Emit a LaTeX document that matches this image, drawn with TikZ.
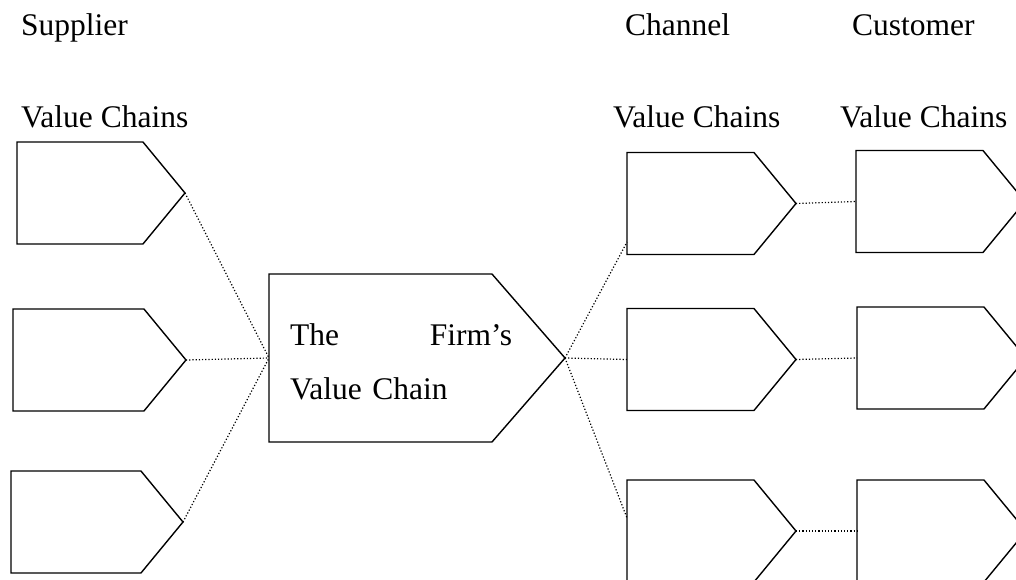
\documentclass[tikz,border=0pt]{standalone}
\usepackage{fontspec}
\setmainfont{Liberation Serif}
\usetikzlibrary{shapes.symbols,calc}

\begin{document}
\begin{tikzpicture}[x=1pt,y=-1pt,
    vcbox/.style={draw,shape=signal,signal to=east,signal from=nowhere,
      signal pointer angle=101,line width=1.4pt,outer sep=0pt,inner sep=0pt,
      minimum width=169pt,minimum height=102pt,anchor=west},
    link/.style={dotted,line width=1.2pt},
    headtext/.style={anchor=base west,inner sep=0pt,font=\fontsize{31.5}{54}\selectfont}]
    \useasboundingbox (0,0) rectangle (1016,580);
    \clip (0,0) rectangle (1016,580);
    % column headings
    \node[headtext] (suphead) at (21,36) {Supplier};
    \node[headtext] (supvc) at (21,128) {Value Chains};
    \node[headtext] (chanhead) at (625,36) {Channel};
    \node[headtext] (chanvc) at (613,128) {Value Chains};
    \node[headtext] (custhead) at (852,36) {Customer};
    \node[headtext] (custvc) at (840,128) {Value Chains};
    % the value chains
    \foreach \n/\x/\y/\w in {sup1/17/193/168,sup2/13/360/173,sup3/11/522/172,
                          chan1/627/203.5/169,chan2/627/359.5/169,chan3/627/531/169,
                          cust1/856/201.5/169,cust2/857/358/169,cust3/857/531/169}{
      \node[vcbox,minimum width=\w pt] (\n) at (\x,\y) {};}
    \node[vcbox,minimum width=296pt,minimum height=168pt,signal pointer angle=98] (firm) at (269,358) {};
    \node[headtext,text width=222pt,align=left] (firmtext) at (290,345) {The\hfill Firm’s\\Value Chain};
    % dotted links
    \foreach \n in {sup1,sup2,sup3}{\draw[link] (\n.east) -- (firm.west);}
    \draw[link] (firm.east) -- ([yshift=-38.5pt]chan1.west);
    \draw[link] (firm.east) -- (chan2.west);
    \draw[link] (firm.east) -- ([yshift=13pt]chan3.west);
    \foreach \i in {1,2,3}{\draw[link] (chan\i.east) -- (cust\i.west);}
  \end{tikzpicture}
\end{document}
